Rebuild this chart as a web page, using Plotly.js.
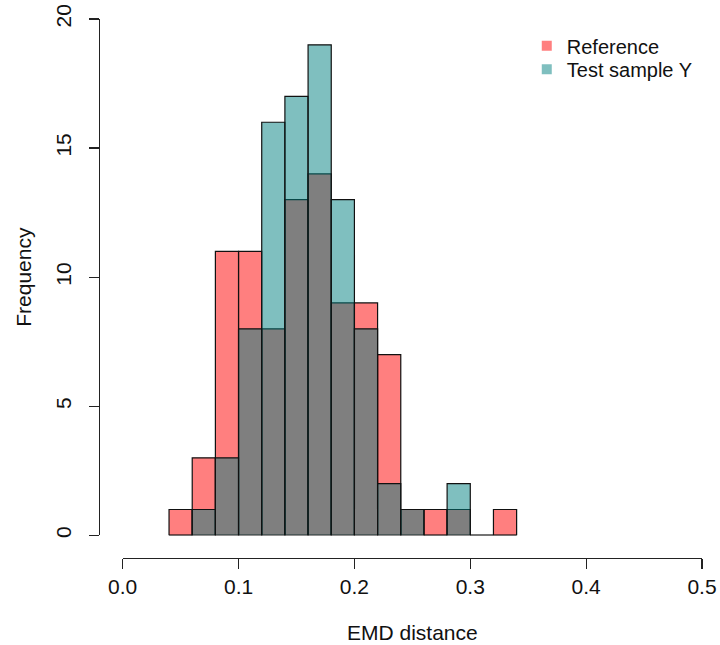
<!DOCTYPE html>
<html>
<head>
<meta charset="utf-8">
<script src="https://cdn.plot.ly/plotly-3.0.1.min.js"></script>
<style>html,body{margin:0;padding:0;background:#fff;}#chart{width:720px;height:645px;}</style>
</head>
<body>
<div id="chart"></div>
<script>
// Histogram bin left edges (width 0.02)
const binStarts = [0.04,0.06,0.08,0.10,0.12,0.14,0.16,0.18,0.20,0.22,0.24,0.26,0.28,0.30,0.32];
const binWidth = 0.02;
const referenceCounts = [1,3,11,11,8,13,14,9,9,7,1,1,1,0,1];
const testCounts      = [0,1,3,8,16,17,19,13,8,2,1,0,2,0,0];
const xTicks = [0.0,0.1,0.2,0.3,0.4,0.5];
const yTicks = [0,5,10,15,20];
const seriesNames = ['Reference','Test sample Y'];

const centers = binStarts.map(s => s + binWidth/2);
const refFill = 'rgba(255,0,0,0.5)';
const testFill = 'rgba(0,128,128,0.5)';
const lineStyle = {color:'#111', width:1.2};

// zero-height bins are drawn as a flat line on the baseline
const zx = [], zy = [];
binStarts.forEach((s,i)=>{
  if (referenceCounts[i]===0 || testCounts[i]===0) {
    zx.push(s, s+binWidth, null); zy.push(0,0,null);
  }
});

const traces = [
  {type:'bar', x:centers, y:referenceCounts, width:binWidth, marker:{color:refFill, line:lineStyle}, showlegend:false, hoverinfo:'x+y'},
  {type:'bar', x:centers, y:testCounts, width:binWidth, marker:{color:testFill, line:lineStyle}, showlegend:false, hoverinfo:'x+y'},
  {type:'scatter', mode:'lines', x:zx, y:zy, line:{color:'#111', width:1.2}, showlegend:false, hoverinfo:'skip'},
  {type:'scatter', mode:'markers', x:[null], y:[null], name:seriesNames[0], legend:'legend', marker:{symbol:'square', size:10, color:'#FF7F7F'}},
  {type:'scatter', mode:'markers', x:[null], y:[null], name:seriesNames[1], legend:'legend2', marker:{symbol:'square', size:10, color:'#7FBFBF'}}
];

const font = {family:'Liberation Sans, Arial, sans-serif', size:21, color:'#111'};
const legendFont = {family:'Liberation Sans, Arial, sans-serif', size:20, color:'#111'};
const legendBase = {xanchor:'left', yanchor:'middle', bgcolor:'rgba(0,0,0,0)', font:legendFont, itemwidth:30};
const layout = {
  width:720, height:645,
  margin:{l:99, r:17.7, t:18.7, b:87.3, pad:0},
  paper_bgcolor:'#fff', plot_bgcolor:'#fff',
  font:font,
  barmode:'overlay', bargap:0,
  showlegend:true,
  legend:Object.assign({x:0.7094, y:0.9503}, legendBase),
  legend2:Object.assign({x:0.7094, y:0.9067}, legendBase),
  xaxis:{
    domain:[0.0393,1], range:[0,0.5], anchor:'free', position:0,
    tickvals:xTicks, ticktext:xTicks.map(v=>v.toFixed(1)),
    showline:true, linecolor:'#222', linewidth:1.2,
    ticks:'outside', ticklen:10, tickwidth:1.2, tickcolor:'#222',
    showgrid:false, zeroline:false,
    tickfont:font,
    title:{text:'EMD distance', font:font, standoff:27}
  },
  yaxis:{
    domain:[0.0421,1], range:[0,20], anchor:'free', position:0,
    tickvals:yTicks, ticktext:yTicks.map(String), tickangle:-90,
    showline:true, linecolor:'#222', linewidth:1.2,
    ticks:'outside', ticklen:10, tickwidth:1.2, tickcolor:'#222',
    ticklabelstandoff:10,
    showgrid:false, zeroline:false,
    tickfont:font,
    title:{text:'Frequency', font:font, standoff:13}
  }
};

Plotly.newPlot('chart', traces, layout, {displayModeBar:false, staticPlot:true});
</script>
</body>
</html>
